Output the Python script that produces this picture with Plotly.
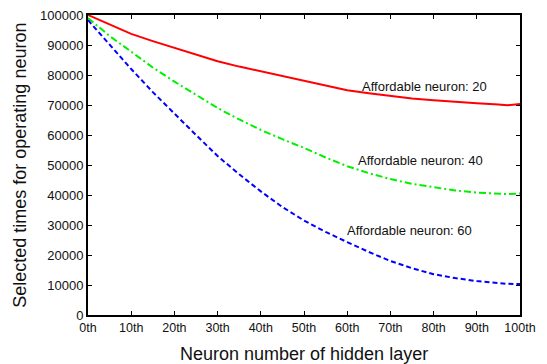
import plotly.graph_objects as go

# Data
layer = [0, 5, 10, 15, 20, 25, 30, 35, 40, 45, 50, 55, 60, 65, 70, 75, 80, 85, 90, 95, 97, 100]
aff20 = [100000, 96800, 93700, 91300, 89000, 86800, 84600, 82800, 81200, 79500, 77900, 76300,
         74900, 73900, 73000, 72200, 71600, 71000, 70600, 70200, 69900, 70300]
aff40 = [99000, 93000, 87800, 82500, 77800, 73300, 69000, 65200, 61700, 58600, 55700, 52500,
         49600, 47300, 45300, 43700, 42500, 41500, 40800, 40300, 40300, 40500]
aff60 = [98300, 90000, 82000, 74300, 67000, 60000, 53000, 46900, 41200, 36000, 31500, 27700,
         24300, 21000, 18000, 15600, 13600, 12300, 11300, 10600, 10400, 10300]

x_tickvals = [0, 10, 20, 30, 40, 50, 60, 70, 80, 90, 100]
x_ticktext = ["0th", "10th", "20th", "30th", "40th", "50th", "60th", "70th", "80th", "90th", "100th"]
y_tickvals = [0, 10000, 20000, 30000, 40000, 50000, 60000, 70000, 80000, 90000, 100000]
y_ticktext = ["0", "10000", "20000", "30000", "40000", "50000", "60000", "70000", "80000", "90000", "100000"]

labels = ["Affordable neuron: 20", "Affordable neuron: 40", "Affordable neuron: 60"]
label_x = [78.0, 77.0, 74.5]
label_y = [76300, 51400, 28100]

FONT = "Liberation Sans, Arial, Helvetica, sans-serif"
TXT = "#111111"

fig = go.Figure()
fig.add_trace(go.Scatter(x=layer, y=aff20, mode="lines",
                         line=dict(color="#ff0000", width=2, dash="solid"), showlegend=False))
fig.add_trace(go.Scatter(x=layer, y=aff40, mode="lines",
                         line=dict(color="#00f000", width=2, dash="7px,3px,2px,3px"), showlegend=False))
fig.add_trace(go.Scatter(x=layer, y=aff60, mode="lines",
                         line=dict(color="#0000ff", width=2, dash="5px,3px"), showlegend=False))

for t, xx, yy in zip(labels, label_x, label_y):
    fig.add_annotation(x=xx, y=yy, text=t, showarrow=False, xanchor="center", yanchor="middle",
                       font=dict(family=FONT, size=13, color=TXT))

fig.add_annotation(xref="paper", yref="paper", x=0.5, y=-0.13, text="Neuron number of hidden layer",
                   showarrow=False, xanchor="center", yanchor="middle",
                   font=dict(family=FONT, size=18, color=TXT))
fig.add_annotation(xref="paper", yref="paper", x=-0.158, y=0.5, text="Selected times for operating neuron",
                   showarrow=False, xanchor="center", yanchor="middle", textangle=-90,
                   font=dict(family=FONT, size=18, color=TXT))

axis_common = dict(showline=True, linecolor="black", linewidth=2, mirror="ticks",
                   ticks="inside", ticklen=4, tickwidth=1, tickcolor="black",
                   showgrid=False, zeroline=False)

fig.update_xaxes(range=[0, 100], tickvals=x_tickvals, ticktext=x_ticktext,
                 tickfont=dict(family=FONT, size=12.5, color=TXT), **axis_common)
fig.update_yaxes(range=[0, 100000], tickvals=y_tickvals, ticktext=y_ticktext,
                 tickfont=dict(family=FONT, size=13, color=TXT), ticklabelstandoff=0, **axis_common)

fig.update_layout(width=547, height=364, margin=dict(l=88, r=27, t=15, b=49, autoexpand=False),
                  plot_bgcolor="white", paper_bgcolor="white")

fig.write_html("out.html", config={"displayModeBar": False},
               post_script="document.body.style.margin='0';document.body.style.padding='0';"
                           "document.body.style.overflow='hidden';")
